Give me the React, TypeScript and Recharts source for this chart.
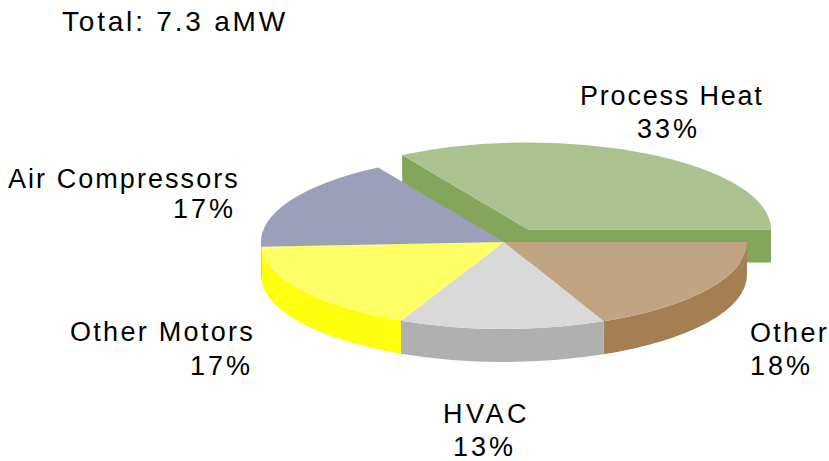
import React from "react";
import { PieChart, Pie } from "recharts";

const categories = ["Process Heat", "Other", "HVAC", "Other Motors", "Air Compressors"];
const shares = [33.7, 18.3, 13.7, 17.2, 17.2];
const shareLabels = ["33%", "18%", "13%", "17%", "17%"];
const topColors = ["#A9C290", "#C1A582", "#D9D9D9", "#FFFF66", "#9C9FBA"];
const sideColors = ["#84A55C", "#A47F52", "#B0B0B0", "#FFFF0F", "#7F8299"];

// where each two-line label starts: [name x, name baseline, share x, share baseline]
const labelSpots = [
  [580, 105, 637, 138],
  [750, 342, 750, 375],
  [443, 423, 453, 456],
  [70, 341, 190, 375],
  [8, 188, 173, 218],
];
// the original text is spaced unevenly, so each name gets its own tracking
const nameSpacing = [1.8, 2.3, 3.5, 2.3, 2.05];

const TILT = 87 / 243; // flatten the pie to fake the 3D look
const DEPTH = 33;
const EXPLODE = [24, -12.5]; // Process Heat is pulled out of the pie

const rad = (deg: number) => (deg * Math.PI) / 180;

function TiltedSlice(props: any) {
  const { cx, cy, outerRadius, startAngle, endAngle, index } = props;
  const rx = outerRadius;
  const ry = outerRadius * TILT;
  const ox = cx + (index === 0 ? EXPLODE[0] : 0);
  const oy = cy + (index === 0 ? EXPLODE[1] : 0);
  const pt = (a: number, dy = 0) =>
    `${ox + rx * Math.cos(rad(a))} ${oy - ry * Math.sin(rad(a)) + dy}`;

  const top = `M${ox} ${oy} L${pt(startAngle)} A${rx} ${ry} 0 ${
    startAngle - endAngle > 180 ? 1 : 0
  } 1 ${pt(endAngle)} Z`;

  // rim only shows on the front half of the ellipse
  const from = Math.min(startAngle, 0);
  const to = Math.max(endAngle, -180);
  const rim =
    from > to
      ? `M${pt(from)} A${rx} ${ry} 0 0 1 ${pt(to)} L${pt(to, DEPTH)} A${rx} ${ry} 0 0 0 ${pt(from, DEPTH)} Z`
      : null;

  const side = sideColors[index];
  return (
    <g>
      {index === 0 && (
        <>
          <path d={`M${ox} ${oy} L${pt(startAngle)} L${pt(startAngle, DEPTH)} L${ox} ${oy + DEPTH} Z`} fill={side} />
          <path d={`M${ox} ${oy} L${pt(endAngle)} L${pt(endAngle, DEPTH)} L${ox} ${oy + DEPTH} Z`} fill={side} />
        </>
      )}
      {rim && <path d={rim} fill={side} />}
      <path d={top} fill={topColors[index]} />
    </g>
  );
}

function SliceLabel(props: any) {
  const { index } = props;
  const [x1, y1, x2, y2] = labelSpots[index];
  return (
    <g fontFamily="Liberation Sans" fontSize={27} fill="#000">
      <text x={x1} y={y1} letterSpacing={nameSpacing[index]}>{categories[index]}</text>
      <text x={x2} y={y2} letterSpacing={3}>{shareLabels[index]}</text>
    </g>
  );
}

export default function App() {
  const data = categories.map((name, i) => ({ name, value: shares[i] }));
  return (
    <div style={{ position: "absolute", left: 0, top: 0, width: 829, height: 461, background: "#fff" }}>
      <PieChart width={829} height={461} margin={{ top: 0, right: 0, bottom: 0, left: 0 }}>
        <text x={62} y={31} fontFamily="Liberation Sans" fontSize={28} letterSpacing={2.8} fill="#000">
          Total: 7.3 aMW
        </text>
        <Pie
          data={data}
          dataKey="value"
          cx={504}
          cy={242}
          innerRadius={0}
          outerRadius={243}
          startAngle={121.2}
          endAngle={-238.8}
          stroke="none"
          shape={TiltedSlice}
          label={SliceLabel}
          labelLine={false}
          isAnimationActive={false}
        />
      </PieChart>
    </div>
  );
}
